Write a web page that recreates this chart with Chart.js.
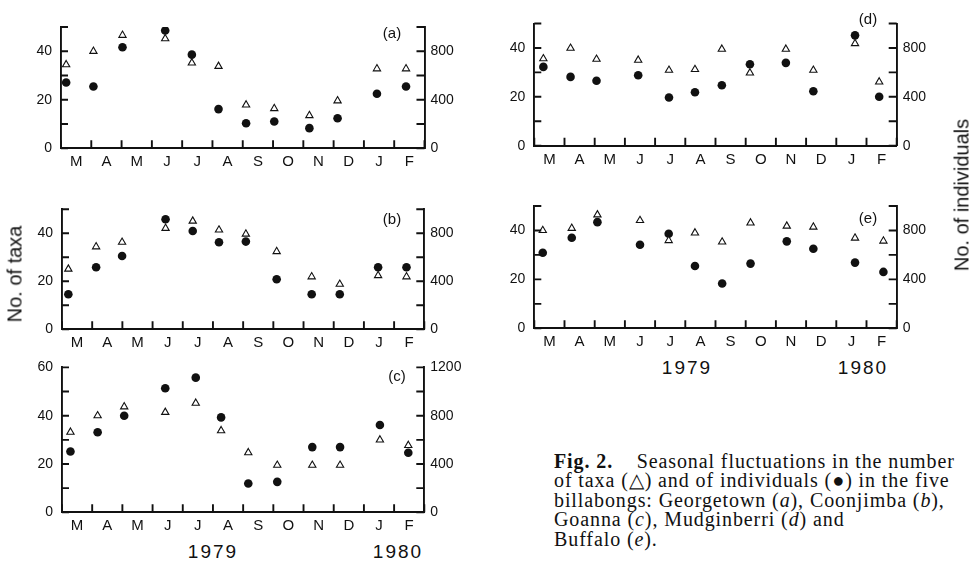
<!DOCTYPE html>
<html>
<head>
<meta charset="utf-8">
<script src="https://cdn.jsdelivr.net/npm/chart.js@4/dist/chart.umd.min.js"></script>
<style>
  html, body { margin: 0; padding: 0; background: #fff; }
  body { width: 973px; height: 562px; position: relative; overflow: hidden; font-family: "Liberation Sans", Arial, sans-serif; color: #111; }
  .panel { position: absolute; }
  .lbl { position: absolute; transform: translate(-50%, -50%); white-space: nowrap; }
  .plab { font-size: 15px; }
  .year { font-size: 19px; letter-spacing: 2px; }
  .vt { position: absolute; transform: translate(-50%, -50%) rotate(-90deg); white-space: nowrap; font-size: 20px; }
  .caption { position: absolute; left: 554px; top: 452px; font-family: "Liberation Serif", "Times New Roman", serif; font-size: 20px; letter-spacing: 0.9px; line-height: 19.4px; white-space: nowrap; color: #111; }
</style>
</head>
<body>
<script>
// ---- Data ----
const months = ['M','A','M','J','J','A','S','O','N','D','J','F'];

// sampling time in months after start of March 1979
const sampleA = [0.17, 1.07, 2.03, 3.44, 4.32, 5.2, 6.11, 7.04, 8.2, 9.13, 10.43, 11.39];
const taxaA   = [34.5, 40, 46.6, 45.2, 35.2, 33.8, 17.9, 16.4, 13.5, 19.6, 32.8, 32.8];
const indivA  = [543, 510, 833, 971, 772, 323, 207, 221, 166, 248, 450, 510];

const sampleB = [0.21, 1.13, 1.99, 3.43, 4.33, 5.2, 6.09, 7.11, 8.27, 9.2, 10.47, 11.41];
const taxaB   = [25.1, 34.4, 36.3, 42.1, 45.1, 41.4, 39.7, 32.4, 21.9, 18.8, 22.4, 21.9];
const indivB  = [292, 517, 611, 917, 819, 725, 731, 417, 292, 292, 517, 517];

const sampleC = [0.28, 1.18, 2.06, 3.42, 4.43, 5.27, 6.17, 7.13, 8.29, 9.21, 10.53, 11.47];
const taxaC   = [33.2, 40, 43.7, 41.4, 45.2, 33.8, 24.7, 19.5, 19.5, 19.5, 30, 27.7];
const indivC  = [504, 663, 800, 1027, 1115, 786, 238, 252, 540, 540, 723, 493];

const sampleD = [0.3, 1.2, 2.06, 3.44, 4.46, 5.32, 6.21, 7.14, 8.33, 9.24, 10.62, 11.42];
const taxaD   = [35.6, 39.9, 35.4, 35, 30.9, 31.2, 39.5, 29.8, 39.5, 30.9, 41.8, 26.1];
const indivD  = [645, 563, 531, 577, 395, 438, 495, 667, 678, 446, 903, 400];

const sampleE = [0.28, 1.24, 2.09, 3.5, 4.45, 5.32, 6.22, 7.16, 8.36, 9.24, 10.62, 11.56];
const taxaE   = [40, 40.9, 46.4, 44.1, 35.9, 39, 35.3, 43.1, 41.8, 41.4, 36.9, 35.7];
const indivE  = [618, 741, 868, 683, 773, 510, 366, 529, 711, 651, 537, 461];

const taxaMaxSmall = 50, indivMaxSmall = 1000;
const taxaMaxLarge = 60, indivMaxLarge = 1200;
const taxaLabelStep = 20, indivLabelStep = 400;
const taxaTickStep = 10, indivTickStep = 200;

// ---- Layout of panels ----
const panels = [
  {id:'a', s:sampleA, t:taxaA, n:indivA, tMax:taxaMaxSmall, nMax:indivMaxSmall, box:[0,0,480,175],   area:[61,424.5,27,148.3]},
  {id:'b', s:sampleB, t:taxaB, n:indivB, tMax:taxaMaxSmall, nMax:indivMaxSmall, box:[0,180,480,170], area:[62,424.3,209.3,329.3]},
  {id:'c', s:sampleC, t:taxaC, n:indivC, tMax:taxaMaxLarge, nMax:indivMaxLarge, box:[0,350,480,185], area:[62,424.3,366.7,512.3]},
  {id:'d', s:sampleD, t:taxaD, n:indivD, tMax:taxaMaxSmall, nMax:indivMaxSmall, box:[480,0,493,175], area:[534.3,896.7,23.5,145.7]},
  {id:'e', s:sampleE, t:taxaE, n:indivE, tMax:taxaMaxSmall, nMax:indivMaxSmall, box:[480,180,493,170], area:[534.3,896.7,206,328.3]}
];

const INK = '#111';
const AXIS_W = 1.9;

// inward-pointing tick marks, placed through the chart's own scales
const inTicks = {
  id: 'inTicks',
  afterDraw(chart) {
    const ctx = chart.ctx;
    const a = chart.chartArea;
    const xd = chart.scales.xd, y = chart.scales.y, y2 = chart.scales.y2;
    ctx.save();
    ctx.strokeStyle = INK;
    ctx.lineWidth = AXIS_W;
    ctx.lineCap = 'butt';
    ctx.beginPath();
    for (let k = 0; k <= months.length; k++) {
      const px = xd.getPixelForValue(k);
      ctx.moveTo(px, a.bottom); ctx.lineTo(px, a.bottom - 8);
    }
    for (let v = 0; v <= y.max; v += taxaTickStep) {
      const py = y.getPixelForValue(v);
      ctx.moveTo(a.left, py); ctx.lineTo(a.left + 7, py);
    }
    for (let v = 0; v <= y2.max; v += indivTickStep) {
      const py = y2.getPixelForValue(v);
      ctx.moveTo(a.right, py); ctx.lineTo(a.right - 8, py);
    }
    ctx.stroke();
    ctx.restore();
  }
};

Chart.defaults.font.family = '"Liberation Sans", Arial, sans-serif';
Chart.defaults.color = INK;

panels.forEach(p => {
  const [bx, by, bw, bh] = p.box;
  const [L, R, T, B] = p.area;
  const div = document.createElement('div');
  div.className = 'panel';
  div.style.left = bx + 'px'; div.style.top = by + 'px';
  div.style.width = bw + 'px'; div.style.height = bh + 'px';
  const cv = document.createElement('canvas');
  cv.width = bw; cv.height = bh;
  cv.style.width = bw + 'px'; cv.style.height = bh + 'px';
  div.appendChild(cv);
  document.body.appendChild(div);

  const leftW = L - bx, rightW = (bx + bw) - R, topPad = T - by, botH = (by + bh) - B;

  new Chart(cv.getContext('2d'), {
    type: 'scatter',
    data: {
      labels: months,
      datasets: [
        {
          label: 'No. of taxa',
          data: p.s.map((x, i) => ({x, y: p.t[i]})),
          xAxisID: 'xd', yAxisID: 'y',
          pointStyle: 'triangle', pointRadius: 4.2,
          pointBackgroundColor: '#fff', pointBorderColor: INK, pointBorderWidth: 1.1,
          showLine: false
        },
        {
          label: 'No. of individuals',
          data: p.s.map((x, i) => ({x, y: p.n[i]})),
          xAxisID: 'xd', yAxisID: 'y2',
          pointStyle: 'circle', pointRadius: 4.3,
          pointBackgroundColor: INK, pointBorderColor: INK, pointBorderWidth: 0,
          showLine: false
        }
      ]
    },
    options: {
      responsive: false,
      animation: false,
      events: [],
      layout: { padding: { top: topPad, left: 0, right: 0, bottom: 0 } },
      plugins: { legend: { display: false }, tooltip: { enabled: false } },
      scales: {
        xd: { type: 'linear', display: false, min: 0, max: months.length },
        x: {
          type: 'category', position: 'bottom', offset: true,
          grid: { display: false, drawTicks: false, tickLength: 0 },
          border: { display: true, color: INK, width: AXIS_W },
          ticks: { font: { size: 15 }, padding: 5, maxRotation: 0, autoSkip: false, color: INK },
          afterFit: s => { s.height = botH; }
        },
        y: {
          type: 'linear', position: 'left', min: 0, max: p.tMax,
          grid: { display: false, drawTicks: false, tickLength: 0 },
          border: { display: true, color: INK, width: AXIS_W },
          ticks: { stepSize: taxaTickStep, font: { size: 14 }, padding: 9, color: INK,
                   callback: v => (v % taxaLabelStep === 0 ? String(v) : '') },
          afterFit: s => { s.width = leftW; }
        },
        y2: {
          type: 'linear', position: 'right', min: 0, max: p.nMax,
          grid: { display: false, drawTicks: false, tickLength: 0 },
          border: { display: true, color: INK, width: AXIS_W },
          ticks: { stepSize: indivTickStep, font: { size: 14 }, padding: 6, color: INK,
                   callback: v => (v % indivLabelStep === 0 ? String(v) : '') },
          afterFit: s => { s.width = rightW; }
        }
      }
    },
    plugins: [inTicks]
  });
});
</script>

<div class="lbl plab" style="left:392px; top:32px;">(a)</div>
<div class="lbl plab" style="left:392px; top:218px;">(b)</div>
<div class="lbl plab" style="left:397px; top:375px;">(c)</div>
<div class="lbl plab" style="left:868px; top:18px;">(d)</div>
<div class="lbl plab" style="left:868px; top:217px;">(e)</div>

<div class="lbl year" style="left:213px; top:552px;">1979</div>
<div class="lbl year" style="left:398px; top:552px;">1980</div>
<div class="lbl year" style="left:687px; top:368px;">1979</div>
<div class="lbl year" style="left:863px; top:368px;">1980</div>

<div class="vt" style="left:15px; top:274px;">No. of taxa</div>
<div class="vt" style="left:962px; top:195px;">No. of individuals</div>

<div class="caption"><b>Fig. 2.</b>&nbsp;&nbsp;&nbsp; Seasonal fluctuations in the number<br>of taxa (△) and of individuals (●) in the five<br>billabongs: Georgetown (<i>a</i>), Coonjimba (<i>b</i>),<br>Goanna (<i>c</i>), Mudginberri (<i>d</i>) and<br>Buffalo (<i>e</i>).</div>
</body>
</html>
